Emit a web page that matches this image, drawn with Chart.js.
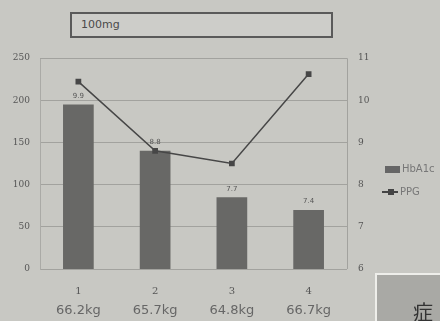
<!DOCTYPE html>
<html>
<head>
<meta charset="utf-8">
<script src="https://cdn.jsdelivr.net/npm/chart.js@4/dist/chart.umd.min.js"></script>
<style>
  html, body { margin: 0; padding: 0; }
  body { width: 440px; height: 321px; background: #c8c8c3; position: relative; overflow: hidden;
         font-family: "DejaVu Sans", sans-serif; }
  #wrap { position: absolute; left: 0; top: 0; width: 440px; height: 321px; }
  .title { position: absolute; left: 70px; top: 12px; width: 250px; height: 22px;
           border: 2px solid #5a5a5a; background: #cdcdc9; color: #4a4a4a; font-size: 11px;
           line-height: 22px; padding-left: 9px; box-sizing: content-box; }
  .leg { position: absolute; font-size: 10px; color: #777; }
  .sw { position: absolute; left: 385px; top: 166px; width: 15px; height: 7px; background: #666; }
  .ln { position: absolute; left: 382px; top: 191px; width: 16px; height: 2px; background: #444; }
  .mk { position: absolute; left: 388px; top: 189px; width: 6px; height: 6px; background: #444; }
  .corner { position: absolute; left: 375px; top: 273px; width: 80px; height: 60px;
            border-top: 2px solid #eeeeea; border-left: 2px solid #eeeeea; background: #a9a9a5; }
  .corner span { position: absolute; left: 36px; top: 22px; font-size: 20px; color: #333;
                 font-family: "Noto Sans CJK JP", sans-serif; }
</style>
</head>
<body>
<div id="wrap"><canvas id="c" width="440" height="321"></canvas></div>
<div class="title">100mg</div>
<div class="sw"></div><div class="leg" style="left:402px;top:163px;">HbA1c</div>
<div class="ln"></div><div class="mk"></div><div class="leg" style="left:400px;top:186px;">PPG</div>
<div class="corner"><span>症</span></div>
<script>
// visits and body weight at each visit
var visits = ["1", "2", "3", "4"];
var weights = ["66.2kg", "65.7kg", "64.8kg", "66.7kg"];
var hba1c = [9.9, 8.8, 7.7, 7.4];
var ppg = [222, 140, 125, 231];

var leftTicks = [0, 50, 100, 150, 200, 250];
var rightTicks = [6, 7, 8, 9, 10, 11];

// value labels above the bars
var barLabels = {
  id: 'barLabels',
  afterDatasetsDraw: function (chart) {
    var ctx = chart.ctx;
    var meta = chart.getDatasetMeta(1);
    ctx.save();
    ctx.font = '7px "DejaVu Sans"';
    ctx.fillStyle = '#555';
    ctx.textAlign = 'center';
    ctx.textBaseline = 'bottom';
    meta.data.forEach(function (bar, i) {
      ctx.fillText(hba1c[i].toFixed(1), bar.x, bar.y - 5);
    });
    ctx.restore();
  }
};

// frame on top and right of the plot
var frame = {
  id: 'frame',
  beforeDatasetsDraw: function (chart) {
    var a = chart.chartArea, ctx = chart.ctx;
    ctx.save();
    ctx.strokeStyle = '#a2a29e';
    ctx.lineWidth = 1;
    ctx.beginPath();
    ctx.moveTo(a.left, a.top + 0.5);
    ctx.lineTo(a.right + 0.5, a.top + 0.5);
    ctx.lineTo(a.right + 0.5, a.bottom);
    ctx.stroke();
    ctx.restore();
  }
};

new Chart(document.getElementById('c'), {
  type: 'bar',
  data: {
    labels: visits,
    datasets: [
      {
        type: 'line',
        label: 'PPG',
        data: ppg,
        yAxisID: 'y',
        borderColor: '#474747',
        backgroundColor: '#474747',
        borderWidth: 1.5,
        pointStyle: 'rect',
        pointRadius: 3,
        tension: 0,
        order: 1
      },
      {
        type: 'bar',
        label: 'HbA1c',
        data: hba1c,
        yAxisID: 'y1',
        backgroundColor: '#686866',
        categoryPercentage: 1,
        barPercentage: 0.4,
        order: 2
      }
    ]
  },
  options: {
    responsive: false,
    animation: false,
    layout: { padding: { top: 58, left: 0, right: 0, bottom: 0 } },
    plugins: { legend: { display: false }, tooltip: { enabled: false } },
    scales: {
      x: {
        grid: { display: false, drawTicks: false },
        border: { display: false },
        ticks: { color: '#555', font: { size: 10, family: 'DejaVu Serif' }, padding: 16 },
        afterFit: function (s) { s.height = 30; }
      },
      x2: {
        type: 'category',
        labels: weights,
        position: 'bottom',
        grid: { display: false, drawTicks: false },
        border: { display: false },
        ticks: { color: '#666', font: { size: 13, family: 'DejaVu Sans' }, padding: 4 },
        afterFit: function (s) { s.height = 22; }
      },
      y: {
        position: 'left',
        min: 0, max: 250,
        afterBuildTicks: function (s) { s.ticks = leftTicks.map(function (v) { return { value: v }; }); },
        grid: { color: '#a2a29e', drawTicks: false },
        border: { color: '#aaaaa6' },
        ticks: { color: '#555', font: { size: 9, family: 'DejaVu Serif' }, padding: 10 },
        afterFit: function (s) { s.width = 40; }
      },
      y1: {
        position: 'right',
        min: 6, max: 11,
        afterBuildTicks: function (s) { s.ticks = rightTicks.map(function (v) { return { value: v }; }); },
        grid: { display: false, drawTicks: false },
        border: { display: false },
        ticks: { color: '#555', font: { size: 9, family: 'DejaVu Serif' }, padding: 11 },
        afterFit: function (s) { s.width = 93; }
      }
    }
  },
  plugins: [frame, barLabels]
});
</script>
</body>
</html>
